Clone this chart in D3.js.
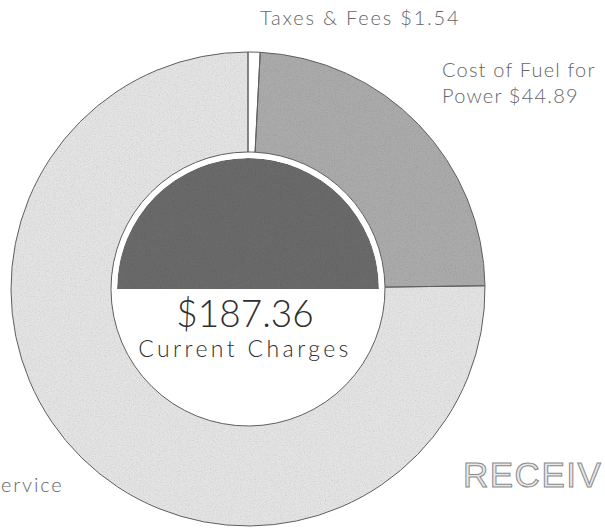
<!DOCTYPE html>
<html>
<head>
<meta charset="utf-8">
<script src="https://cdn.jsdelivr.net/npm/d3@7"></script>
<style>
  html, body { margin: 0; padding: 0; background: #fff; overflow: hidden; }
  svg { display: block; }
</style>
</head>
<body>
<svg id="donut"></svg>
<script>
// chart data
const categories = ["Taxes & Fees", "Cost of Fuel for Power", "Service"];
const values = [1.54, 44.89, 140.93];
// label text as it shows on the scan (the left one runs off the page)
const labelLines = [["Taxes & Fees $1.54"], ["Cost of Fuel for", "Power $44.89"], ["ervice"]];
const totalLabel = "$187.36";
const totalCaption = "Current Charges";
const stampText = "RECEIV";

const width = 605;
const height = 531;
const cx = 248, cy = 289;
const outerR = 237, innerR = 137, discR = 131;

const sliceColors = ["#ffffff", "#ababab", "#e4e4e4"];
// where each label sits (layout only)
const labelPos = [{x: 260, y: 25}, {x: 442, y: 77}, {x: 1, y: 492}];

let svg = d3.select('#donut')
    .attr('width', width)
    .attr('height', height);

// a bit of scanner grain
let grain = svg.append('defs').append('filter')
    .attr('id', 'grain')
    .attr('x', 0).attr('y', 0).attr('width', 1).attr('height', 1);
grain.append('feTurbulence')
    .attr('type', 'fractalNoise')
    .attr('baseFrequency', 0.8)
    .attr('numOctaves', 2)
    .attr('seed', 7)
    .attr('result', 'noise');
grain.append('feColorMatrix')
    .attr('in', 'noise')
    .attr('type', 'matrix')
    .attr('values', '0.33 0.33 0.33 0 0  0.33 0.33 0.33 0 0  0.33 0.33 0.33 0 0  0 0 0 0 1')
    .attr('result', 'gray');
let ct = grain.append('feComponentTransfer').attr('in', 'gray').attr('result', 'soft');
['feFuncR', 'feFuncG', 'feFuncB'].forEach(f => {
    ct.append(f).attr('type', 'linear').attr('slope', 0.7).attr('intercept', 0.62);
});
grain.append('feBlend')
    .attr('in', 'SourceGraphic')
    .attr('in2', 'soft')
    .attr('mode', 'multiply')
    .attr('result', 'mixed');
grain.append('feComposite')
    .attr('in', 'mixed')
    .attr('in2', 'SourceGraphic')
    .attr('operator', 'in');

let g = svg.append('g')
    .attr('transform', `translate(${cx},${cy})`);

const pie = d3.pie().sort(null).value(d => d);
const arc = d3.arc().innerRadius(innerR).outerRadius(outerR);

g.selectAll('.slice')
    .data(pie(values))
    .enter()
    .append('path')
    .attr('class', 'slice')
    .attr('d', arc)
    .attr('fill', (d, i) => sliceColors[i])
    .attr('filter', (d, i) => i === 0 ? null : 'url(#grain)');

g.selectAll('.edge')
    .data(pie(values))
    .enter()
    .append('path')
    .attr('class', 'edge')
    .attr('d', arc)
    .attr('fill', 'none')
    .attr('stroke', '#5e5e5e')
    .attr('stroke-width', 1);

// dark upper half in the middle
const halfDisc = d3.arc()
    .innerRadius(0)
    .outerRadius(discR)
    .startAngle(-Math.PI / 2)
    .endAngle(Math.PI / 2);

g.append('path')
    .attr('d', halfDisc())
    .attr('fill', '#6a6a6a')
    .attr('filter', 'url(#grain)');

g.append('text')
    .attr('x', -3)
    .attr('y', 38)
    .attr('text-anchor', 'middle')
    .style('font-family', 'Lato, "Open Sans", sans-serif')
    .style('font-weight', 300)
    .style('font-size', '37px')
    .style('fill', '#2e2e2e')
    .text(totalLabel);

g.append('text')
    .attr('x', -3)
    .attr('y', 68)
    .attr('text-anchor', 'middle')
    .style('font-family', 'Lato, "Open Sans", sans-serif')
    .style('font-weight', 300)
    .style('font-size', '23px')
    .style('letter-spacing', '3.4px')
    .style('fill', '#2e2e2e')
    .text(totalCaption);

// slice labels
labelLines.forEach((lines, i) => {
    let t = svg.append('text')
        .attr('x', labelPos[i].x)
        .attr('y', labelPos[i].y)
        .style('font-family', 'Lato, "Open Sans", sans-serif')
        .style('font-weight', 300)
        .style('font-size', '20px')
        .style('letter-spacing', i === 1 ? '1.2px' : '1.8px')
        .style('fill', '#666');
    lines.forEach((line, j) => {
        t.append('tspan')
            .attr('x', labelPos[i].x)
            .attr('dy', j === 0 ? 0 : 26)
            .text(line);
    });
});

// stamp in the corner
svg.append('text')
    .attr('x', 463)
    .attr('y', 487)
    .style('font-family', '"Liberation Sans", Arial, sans-serif')
    .style('font-size', '35px')
    .style('letter-spacing', '1.5px')
    .style('fill', '#e8e8e8')
    .style('stroke', '#8a8a8a')
    .style('stroke-width', 1)
    .text(stampText);
</script>
</body>
</html>
